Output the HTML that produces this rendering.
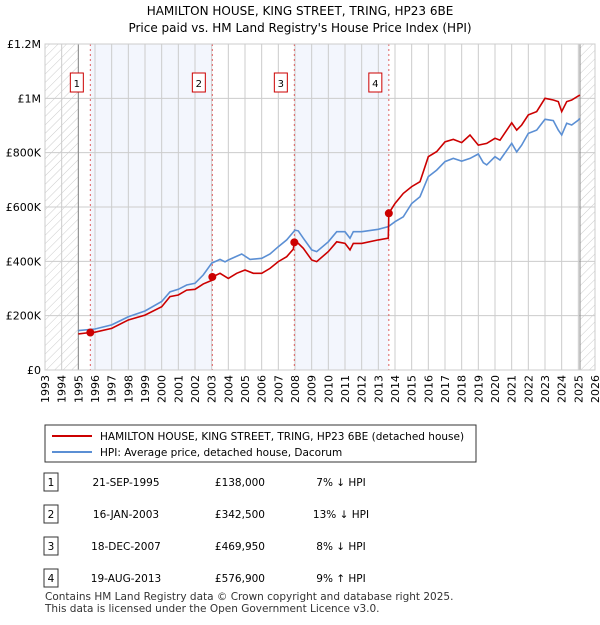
<!DOCTYPE html>
<html><head><meta charset="utf-8"><style>
body{margin:0;background:#fff;font-family:"Liberation Sans","DejaVu Sans",sans-serif;}
</style></head><body>
<svg width="600" height="620" viewBox="0 0 600 620" xmlns="http://www.w3.org/2000/svg" font-family="DejaVu Sans, Liberation Sans, sans-serif">
<defs><pattern id="hatch" width="6" height="6" patternUnits="userSpaceOnUse" patternTransform="rotate(45)"><line x1="0" y1="0" x2="0" y2="6" stroke="#ccc" stroke-width="1"/></pattern></defs>
<text x="300" y="15" text-anchor="middle" font-size="12">HAMILTON HOUSE, KING STREET, TRING, HP23 6BE</text>
<text x="300" y="32" text-anchor="middle" font-size="12">Price paid vs. HM Land Registry's House Price Index (HPI)</text>
<g id="plot"></g>
<g id="legend">
<rect x="45" y="425" width="431" height="37" fill="#fff" stroke="#333"/>
<line x1="52" y1="436" x2="92" y2="436" stroke="#cc0000" stroke-width="2"/>
<text x="100" y="440" font-size="10.5">HAMILTON HOUSE, KING STREET, TRING, HP23 6BE (detached house)</text>
<line x1="52" y1="452" x2="92" y2="452" stroke="#5b8fd4" stroke-width="2"/>
<text x="100" y="456" font-size="10.5">HPI: Average price, detached house, Dacorum</text>
</g>
<g id="table" font-size="10.5"></g>
<text x="45" y="600" font-size="10.5" fill="#333">Contains HM Land Registry data © Crown copyright and database right 2025.</text>
<text x="45" y="612" font-size="10.5" fill="#333">This data is licensed under the Open Government Licence v3.0.</text>
</svg>
<script>
const hpiYears=[1995,1996,1997,1998,1999,2000,2000.5,2001,2001.5,2002,2002.5,2003,2003.5,2003.8,2004,2004.8,2005.3,2006,2006.5,2007,2007.5,2008,2008.2,2008.5,2009,2009.3,2010,2010.5,2011,2011.3,2011.5,2012,2013,2013.6,2014,2014.5,2015,2015.5,2016,2016.5,2017,2017.5,2018,2018.5,2019,2019.3,2019.5,2020,2020.3,2021,2021.3,2021.6,2022,2022.5,2023,2023.5,2023.8,2024,2024.3,2024.6,2025,2025.1];
const hpiValues=[145,151,166,196,217,252,288,297,313,319,350,393,407,398,405,427,407,411,427,454,479,515,512,485,442,436,472,509,509,485,509,509,518,528,546,564,613,638,712,736,767,779,769,779,795,763,755,785,773,834,803,828,871,883,923,918,883,865,908,902,920,926];
const redYears=[1995,1995.72,1996,1997,1998,1999,2000,2000.5,2001,2001.5,2002,2002.5,2003.0,2003.04,2003.5,2004,2004.5,2005,2005.5,2006,2006.5,2007,2007.5,2007.9,2007.96,2008.2,2008.5,2009,2009.3,2010,2010.5,2011,2011.3,2011.5,2012,2013,2013.6,2013.63,2014,2014.5,2015,2015.5,2016,2016.5,2017,2017.5,2018,2018.5,2019,2019.5,2020,2020.3,2021,2021.3,2021.6,2022,2022.5,2023,2023.5,2023.8,2024,2024.3,2024.6,2025,2025.1];
const redValues=[133,138,139,153,184,202,233,270,276,294,297,317,330,342.5,356,337,356,368,356,356,374,399,417,445,469.95,466,448,405,399,436,472,466,442,466,466,479,485,576.9,613,650,675,693,785,804,840,849,837,865,828,834,853,846,910,883,902,939,951,1000,994,988,951,988,994,1009,1012];
const saleYears=[1995.72,2003.04,2007.96,2013.63];
const saleValues=[138,342.5,469.95,576.9];
const saleLabels=["1","2","3","4"];
const saleDates=["21-SEP-1995","16-JAN-2003","18-DEC-2007","19-AUG-2013"];
const salePrices=["£138,000","£342,500","£469,950","£576,900"];
const saleHpi=["7% ↓ HPI","13% ↓ HPI","8% ↓ HPI","9% ↑ HPI"];
const yTicks=[0,200,400,600,800,1000,1200];
const yTickLabels=["£0","£200K","£400K","£600K","£800K","£1M","£1.2M"];
const NS="http://www.w3.org/2000/svg";
const X0=45,X1=595,Y0=370,Y1=44;
const xs=y=>X0+(y-1993)/(2026-1993)*(X1-X0);
const ys=v=>Y0-v/1200*(Y0-Y1);
const plot=document.getElementById('plot');
function mk(tag,attrs,parent){const e=document.createElementNS(NS,tag);for(const k in attrs)e.setAttribute(k,attrs[k]);(parent||plot).appendChild(e);return e;}
let r;
r=mk('rect',{x:X0,y:Y1,width:X1-X0,height:Y0-Y1,fill:'#fff'});


r=mk('rect',{x:xs(saleYears[0]),y:Y1,width:xs(saleYears[1])-xs(saleYears[0]),height:Y0-Y1,fill:'#f3f6fd'});


r=mk('rect',{x:xs(saleYears[2]),y:Y1,width:xs(saleYears[3])-xs(saleYears[2]),height:Y0-Y1,fill:'#f3f6fd'});


r=mk('rect',{x:X0,y:Y1,width:xs(1995)-X0,height:Y0-Y1,fill:'url(#hatch)'});


r=mk('rect',{x:xs(2025.1),y:Y1,width:X1-xs(2025.1),height:Y0-Y1,fill:'url(#hatch)'});


for(let yr=1993;yr<=2026;yr++){
 const l=mk('line',{x1:xs(yr),x2:xs(yr),y1:Y1,y2:Y0,stroke:'#ccc','stroke-width':1});
 
 
 const t=mk('text',{transform:`translate(${xs(yr)+4},${Y0+5}) rotate(-90)`,'text-anchor':'end','font-size':11});
 t.textContent=yr;
 
 
}
yTicks.forEach((v,i)=>{
 const l=mk('line',{x1:X0,x2:X1,y1:ys(v),y2:ys(v),stroke:'#ccc','stroke-width':1});
 
 
 const t=mk('text',{x:X0-4,y:ys(v)+4,'text-anchor':'end','font-size':11});
 t.textContent=yTickLabels[i];
 
 
});
r=mk('line',{x1:xs(1995),x2:xs(1995),y1:Y1,y2:Y0,stroke:'#888'});


r=mk('line',{x1:xs(2025.1),x2:xs(2025.1),y1:Y1,y2:Y0,stroke:'#888'});


saleYears.forEach((yr,i)=>{
 const l=mk('line',{x1:xs(yr),x2:xs(yr),y1:Y1,y2:Y0,stroke:'#e06060','stroke-dasharray':'2,3','stroke-width':1});
 
 
 const b=mk('rect',{x:xs(yr)-20,y:73,width:13,height:19,fill:'#fff',stroke:'#cc0000'});
 
 
 const t=mk('text',{x:xs(yr)-13.5,y:87,'text-anchor':'middle','font-size':10});
 t.textContent=saleLabels[i];
 
 
});
function path(xa,va,col,name){
 const d=xa.map((x,i)=>(i?'L':'M')+xs(x).toFixed(1)+','+ys(va[i]).toFixed(1)).join('');
 const p=mk('path',{d,fill:'none',stroke:col,'stroke-width':1.6});
 
 
}
path(hpiYears,hpiValues,'#5b8fd4','hpi-line');
path(redYears,redValues,'#cc0000','price-paid-line');
saleYears.forEach((yr,i)=>{
 const c=mk('circle',{cx:xs(yr),cy:ys(saleValues[i]),r:4,fill:'#cc0000'});
 
 
});
r=mk('rect',{x:X0,y:Y1,width:X1-X0,height:Y0-Y1,fill:'none',stroke:'#ccc'});


const tb=document.getElementById('table');
saleYears.forEach((yr,i)=>{
 const y=482+i*32;
 const b=mk('rect',{x:44,y:y-9,width:14,height:18,fill:'#fff',stroke:'#333'},tb);
 
 
 const cols=[[51,saleLabels[i],'middle','table-row-number'],[126,saleDates[i],'middle','table-date'],[265,salePrices[i],'end','table-price'],[341,saleHpi[i],'middle','table-hpi-change']];
 cols.forEach(c=>{
  const t=mk('text',{x:c[0],y:y+4,'text-anchor':c[2]},tb);
  t.textContent=c[1];
  
  
 });
});
</script>
</body></html>
